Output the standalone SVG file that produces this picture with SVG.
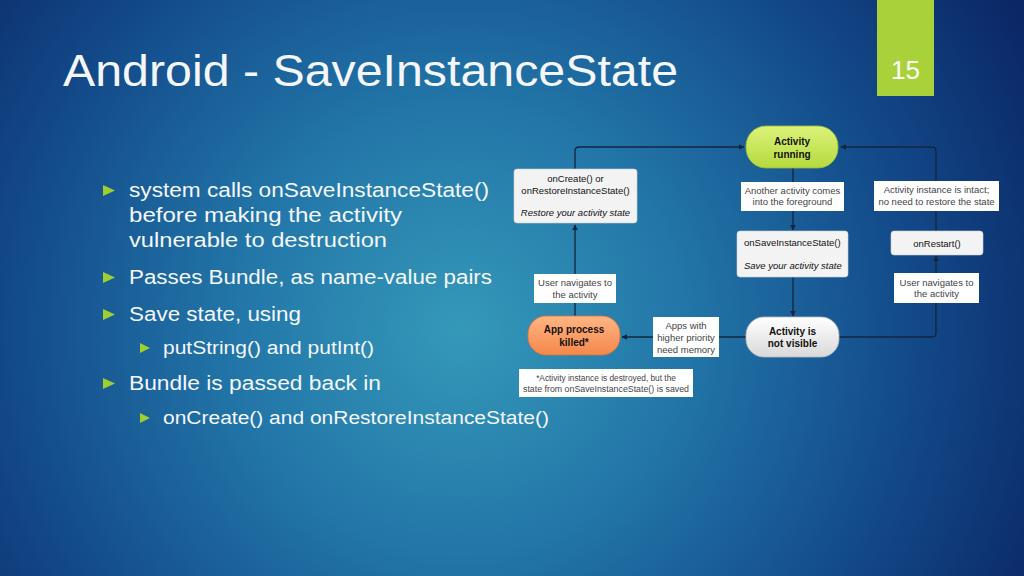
<svg xmlns="http://www.w3.org/2000/svg" width="1024" height="576" viewBox="0 0 1024 576">
<defs>
<radialGradient id="bg" cx="460" cy="330" r="640" gradientUnits="userSpaceOnUse">
<stop offset="0" stop-color="#3599b9"/>
<stop offset="0.35" stop-color="#2276a8"/>
<stop offset="0.7" stop-color="#134a8a"/>
<stop offset="1" stop-color="#0b2766"/>
</radialGradient>
<linearGradient id="gGreen" x1="0" y1="0" x2="0" y2="1">
<stop offset="0" stop-color="#dcf27a"/>
<stop offset="1" stop-color="#b5da3e"/>
</linearGradient>
<linearGradient id="gOrange" x1="0" y1="0" x2="0" y2="1">
<stop offset="0" stop-color="#ffb584"/>
<stop offset="1" stop-color="#f5884b"/>
</linearGradient>
<linearGradient id="gWhite" x1="0" y1="0" x2="0" y2="1">
<stop offset="0" stop-color="#ffffff"/>
<stop offset="1" stop-color="#d9d9d9"/>
</linearGradient>
<marker id="arr" viewBox="0 0 10 10" refX="9" refY="5" markerWidth="6" markerHeight="6" orient="auto" markerUnits="userSpaceOnUse">
<path d="M0,0 L10,5 L0,10 z" fill="#14263f"/>
</marker>
</defs>
<style>
.title{font-family:"Liberation Sans",Arial,sans-serif;font-size:44px;fill:#f4f6fa}
.pg{font-family:"Liberation Sans",Arial,sans-serif;font-size:26px;fill:#ffffff}
.b1{font-family:"Liberation Sans",Arial,sans-serif;font-size:20px;fill:#f4f6fa}
.b2{font-family:"Liberation Sans",Arial,sans-serif;font-size:18px;fill:#f4f6fa}
.tri{fill:#9fcf2f}
.lbl{fill:#ffffff}
.lt{font-family:"Liberation Sans",Arial,sans-serif;font-size:9.5px;fill:#444444;text-anchor:middle}
.nt2{font-family:"Liberation Sans",Arial,sans-serif;font-size:8.3px;fill:#444444;text-anchor:middle}
.box{fill:#f3f3f3;stroke:#d0d0d0;stroke-width:0.6}
.bt{font-family:"Liberation Sans",Arial,sans-serif;font-size:9.5px;fill:#111111}
.it{font-style:italic}
.nt{font-family:"Liberation Sans",Arial,sans-serif;font-size:10px;font-weight:bold;fill:#111111;text-anchor:middle}
.conn{fill:none;stroke:#14263f;stroke-width:1.3}
</style>
<rect x="0" y="0" width="1024" height="576" fill="url(#bg)"/>
<text class="title" x="63" y="86" textLength="615" lengthAdjust="spacingAndGlyphs">Android - SaveInstanceState</text>
<g id="pagenum">
<rect x="877" y="0" width="57" height="96" fill="#a9d13a"/>
<text class="pg" x="905.5" y="79" text-anchor="middle">15</text>
</g>
<g id="bullets">
<polygon class="tri" points="103,185 115,190.5 103,196"/>
<text class="b1" x="129" y="197" textLength="360" lengthAdjust="spacingAndGlyphs">system calls onSaveInstanceState()</text>
<text class="b1" x="129" y="222" textLength="273" lengthAdjust="spacingAndGlyphs">before making the activity</text>
<text class="b1" x="129" y="247" textLength="258" lengthAdjust="spacingAndGlyphs">vulnerable to destruction</text>
<polygon class="tri" points="103,272 115,277.5 103,283"/>
<text class="b1" x="129" y="284" textLength="363" lengthAdjust="spacingAndGlyphs">Passes Bundle, as name-value pairs</text>
<polygon class="tri" points="103,309 115,314.5 103,320"/>
<text class="b1" x="129" y="321" textLength="172" lengthAdjust="spacingAndGlyphs">Save state, using</text>
<polygon class="tri" points="140,343 150,348 140,353"/>
<text class="b2" x="163" y="354" textLength="211" lengthAdjust="spacingAndGlyphs">putString() and putInt()</text>
<polygon class="tri" points="103,378 115,383.5 103,389"/>
<text class="b1" x="129" y="390" textLength="252" lengthAdjust="spacingAndGlyphs">Bundle is passed back in</text>
<polygon class="tri" points="140,413 150,418 140,423"/>
<text class="b2" x="163" y="424" textLength="386" lengthAdjust="spacingAndGlyphs">onCreate() and onRestoreInstanceState()</text>
</g>
<g id="connectors">
<path class="conn" d="M575,169 L575,151 Q575,147 579,147 L744,147" marker-end="url(#arr)"/>
<path class="conn" d="M575,316 L575,225" marker-end="url(#arr)"/>
<path class="conn" d="M793,167 L793,230" marker-end="url(#arr)"/>
<path class="conn" d="M793,277 L793,316" marker-end="url(#arr)"/>
<path class="conn" d="M746,337 L622,337" marker-end="url(#arr)"/>
<path class="conn" d="M839,337 L932,337 Q936,337 936,333 L936,256" marker-end="url(#arr)"/>
<path class="conn" d="M936,231 L936,151 Q936,147 932,147 L841,147" marker-end="url(#arr)"/>
</g>
<g id="n-running">
<rect x="746" y="126" width="92" height="42" rx="20" fill="url(#gGreen)" stroke="#9cbf2e" stroke-width="0.8"/>
<text class="nt" x="792" y="145">Activity</text>
<text class="nt" x="792" y="158">running</text>
</g>
<g id="n-oncreate">
<rect class="box" x="514" y="169" width="123" height="54" rx="3"/>
<text class="bt" x="575.5" y="182" text-anchor="middle">onCreate() or</text>
<text class="bt" x="575.5" y="194" text-anchor="middle">onRestoreInstanceState()</text>
<text class="bt it" x="575.5" y="216" text-anchor="middle">Restore your activity state</text>
</g>
<g id="l-another">
<rect class="lbl" x="741" y="182" width="103" height="29"/>
<text class="lt" x="792.5" y="194">Another activity comes</text>
<text class="lt" x="792.5" y="205">into the foreground</text>
</g>
<g id="l-intact">
<rect class="lbl" x="874" y="181" width="125" height="30"/>
<text class="lt" x="936.5" y="193">Activity instance is intact;</text>
<text class="lt" x="936.5" y="205">no need to restore the state</text>
</g>
<g id="n-onsave">
<rect class="box" x="737" y="231" width="111" height="46" rx="3"/>
<text class="bt" x="744" y="246">onSaveInstanceState()</text>
<text class="bt it" x="744" y="269">Save your activity state</text>
</g>
<g id="n-onrestart">
<rect class="box" x="891" y="231" width="92" height="24" rx="3"/>
<text class="bt" x="937" y="246.5" text-anchor="middle">onRestart()</text>
</g>
<g id="l-usernav-left">
<rect class="lbl" x="534" y="274" width="82" height="29"/>
<text class="lt" x="575" y="286">User navigates to</text>
<text class="lt" x="575" y="298">the activity</text>
</g>
<g id="l-usernav-right">
<rect class="lbl" x="894" y="273" width="85" height="30"/>
<text class="lt" x="936.5" y="286">User navigates to</text>
<text class="lt" x="936.5" y="297">the activity</text>
</g>
<g id="n-killed">
<rect x="528" y="316" width="92" height="39" rx="18" fill="url(#gOrange)" stroke="#d8733a" stroke-width="0.8"/>
<text class="nt" x="574" y="333">App process</text>
<text class="nt" x="574" y="346">killed*</text>
</g>
<g id="l-apps">
<rect class="lbl" x="653" y="317" width="66" height="40"/>
<text class="lt" x="686" y="329">Apps with</text>
<text class="lt" x="686" y="341">higher priority</text>
<text class="lt" x="686" y="353">need memory</text>
</g>
<g id="n-notvisible">
<rect x="746" y="317" width="93" height="40" rx="18" fill="url(#gWhite)" stroke="#bbbbbb" stroke-width="0.8"/>
<text class="nt" x="792.5" y="335">Activity is</text>
<text class="nt" x="792.5" y="347">not visible</text>
</g>
<g id="l-note">
<rect class="lbl" x="519" y="369" width="174" height="28"/>
<text class="nt2" x="606" y="381">*Activity instance is destroyed, but the</text>
<text class="nt2" x="606" y="392" textLength="166" lengthAdjust="spacingAndGlyphs">state from onSaveInstanceState() is saved</text>
</g>
</svg>
